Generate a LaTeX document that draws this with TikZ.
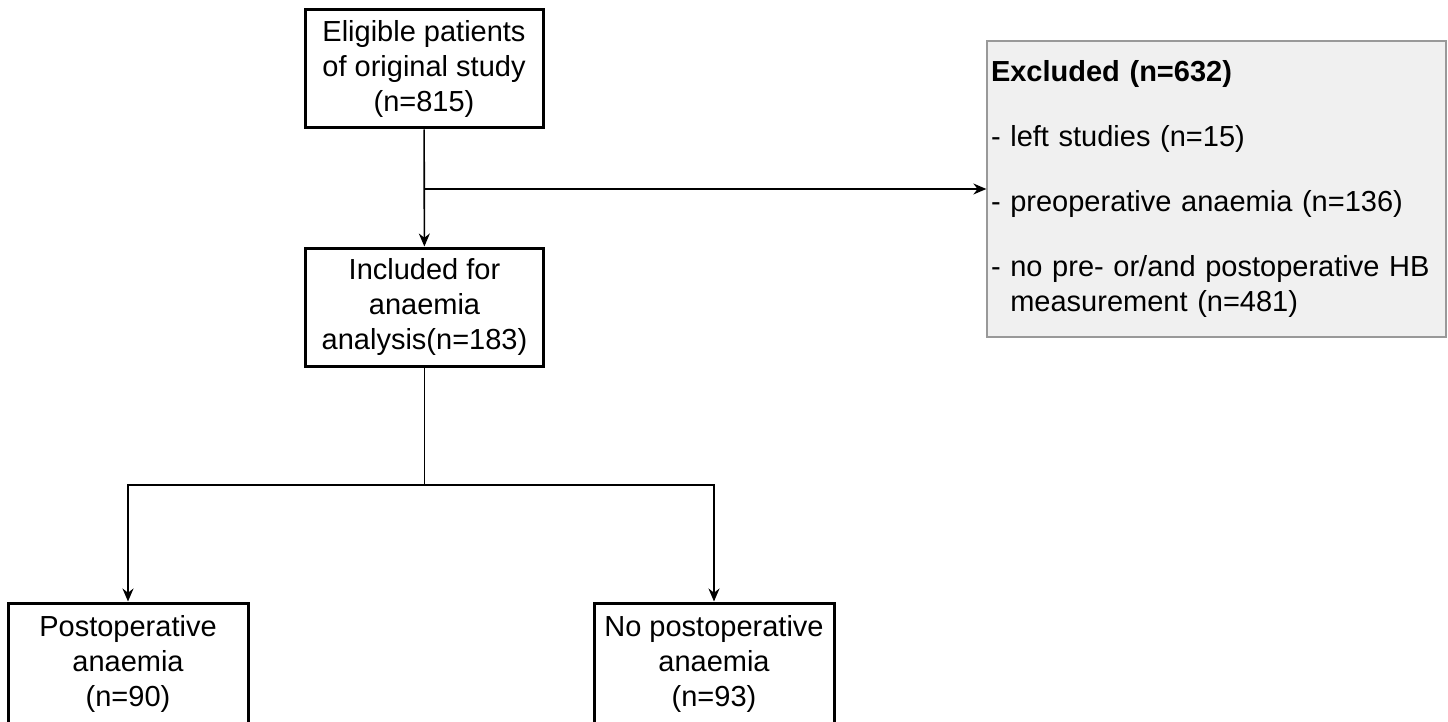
\documentclass[tikz,border=0pt]{standalone}
\usepackage{fontspec}
\setmainfont{Liberation Sans}
\usetikzlibrary{positioning,arrows.meta}

\begin{document}
\begin{tikzpicture}[x=1pt,y=-1pt]
    \tikzset{
        box/.style={draw,line width=3pt,minimum width=238pt,minimum height=118pt,align=center,inner sep=2pt,font=\fontsize{29}{35}\selectfont},
        exclbox/.style={draw=gray!80,fill=gray!12,line width=1.3pt,minimum width=459pt,minimum height=296pt,text width=451pt,align=left,inner sep=4pt,font=\fontsize{29}{35}\selectfont},
        link/.style={line width=1.6pt},
        arr/.style={link,-{Stealth[length=13pt,width=11pt]}},}
    \useasboundingbox (0,0) rectangle (1448,722);
    \node[box] (elig) at (424,69) {Eligible patients\\of original study\\(n=815)};
    \node[box] (incl) at (424.5,307) {Included for\\anaemia\\analysis(n=183)};
    \node[exclbox] (excl) at (1216.5,189) {\textbf{Excluded (n=632)}\\[30pt]
        - left studies (n=15)\\[30pt]
        - preoperative anaemia (n=136)\\[30pt]
        - no pre- or/and postoperative HB\\\hphantom{- }measurement (n=481)};
    \node[box,minimum width=240pt,minimum height=122pt] (post) at (128,664) {Postoperative\\anaemia\\(n=90)};
    \node[box,minimum width=240pt,minimum height=122pt] (nopost) at (714,664) {No postoperative\\anaemia\\(n=93)};
    % flow lines
    \draw[arr] (elig) -- (incl);
    \coordinate (split) at (elig.south |- excl.west);
    \draw[arr] (split) -- (excl.west);
    \coordinate (fork) at (424.5,485);
    \draw[link] (incl) -- (fork);
    \draw[arr] (fork) -| (post.north);
    \draw[arr] (fork) -| (nopost.north);
\end{tikzpicture}
\end{document}
